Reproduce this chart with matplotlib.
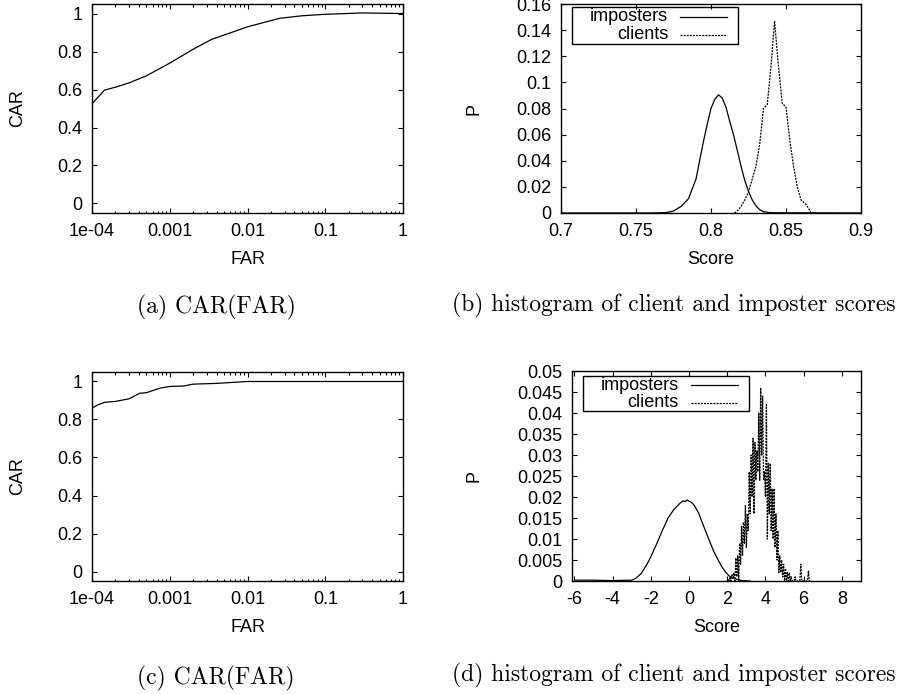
import matplotlib
matplotlib.use('Agg')
import matplotlib.pyplot as plt
from matplotlib.patches import Rectangle
from matplotlib.ticker import FixedLocator, FixedFormatter, LogLocator, NullFormatter


# (a) CAR(FAR) curve, first system
far_a = [1e-4, 1.45e-4, 2e-4, 3e-4, 5e-4, 1e-3, 2e-3, 3.5e-3, 6e-3, 1e-2,
         1.7e-2, 2.6e-2, 5e-2, 0.1, 0.3, 1.0]
car_a = [0.525, 0.597, 0.612, 0.635, 0.672, 0.739, 0.812, 0.865, 0.898, 0.930,
         0.955, 0.975, 0.988, 0.996, 1.003, 1.0]

# (b) score histograms, first system
score_imp_b = [0.700, 0.760, 0.770, 0.775, 0.780, 0.785, 0.790, 0.795, 0.7975,
               0.800, 0.8025, 0.805, 0.8075, 0.810, 0.8125, 0.815, 0.8175,
               0.820, 0.8225, 0.825, 0.8275, 0.830, 0.8325, 0.835, 0.840, 0.900]
p_imp_b = [0.0, 0.0, 0.0003, 0.0015, 0.005, 0.011, 0.026, 0.055, 0.068,
           0.080, 0.087, 0.0905, 0.088, 0.081, 0.070, 0.060, 0.048,
           0.036, 0.025, 0.0165, 0.010, 0.0055, 0.0025, 0.001, 0.0002, 0.0]
score_cli_b = [0.8157, 0.8180, 0.8200, 0.8225, 0.8250, 0.8275, 0.8300, 0.8325,
               0.8350, 0.8375, 0.8400, 0.8424, 0.8446, 0.8475, 0.8500, 0.8525,
               0.8550, 0.8575, 0.8600, 0.8635, 0.8668]
p_cli_b = [0.0, 0.002, 0.005, 0.010, 0.016, 0.026, 0.036, 0.053,
           0.080, 0.083, 0.112, 0.147, 0.117, 0.084, 0.081, 0.056,
           0.036, 0.020, 0.010, 0.0064, 0.0]

# (c) CAR(FAR) curve, second system
far_c = [1e-4, 1.2e-4, 1.45e-4, 1.7e-4, 2e-4, 3e-4, 4.1e-4, 5e-4, 7.5e-4,
         1e-3, 1.5e-3, 2e-3, 4e-3, 1e-2, 0.1, 1.0]
car_c = [0.860, 0.878, 0.890, 0.893, 0.895, 0.909, 0.938, 0.941, 0.965,
         0.974, 0.976, 0.986, 0.990, 1.0, 1.0, 1.0]

# (d) score histograms, second system
score_imp_d = [-6.0, -5.0, -4.0, -3.0, -2.8, -2.5, -2.2, -2.0, -1.7, -1.4,
               -1.1, -0.8, -0.5, -0.4, -0.3, -0.2, -0.1, 0.0, 0.1, 0.2,
               0.3, 0.5, 0.7, 0.9, 1.1, 1.3, 1.5, 1.7, 1.9, 2.1, 2.4, 2.8, 3.2]
p_imp_d = [0.0002, 0.0002, 0.0001, 0.0002, 0.0006, 0.0018, 0.0040, 0.0058, 0.0088, 0.0120,
           0.0150, 0.0170, 0.0184, 0.0188, 0.0191, 0.0189, 0.0193, 0.0190, 0.0188, 0.0184,
           0.0178, 0.0162, 0.0138, 0.0115, 0.0092, 0.0070, 0.0052, 0.0035, 0.0022, 0.0012,
           0.0005, 0.0001, 0.0]
score_cli_d = [2.00, 2.05, 2.10, 2.15, 2.20, 2.25, 2.30, 2.35, 2.40, 2.45,
               2.50, 2.55, 2.60, 2.65, 2.70, 2.75, 2.80, 2.85, 2.90, 2.95,
               3.00, 3.05, 3.10, 3.15, 3.20, 3.25, 3.30, 3.35, 3.40, 3.45,
               3.50, 3.55, 3.60, 3.65, 3.70, 3.75, 3.80, 3.85, 3.90, 3.95,
               4.00, 4.05, 4.10, 4.15, 4.20, 4.25, 4.30, 4.35, 4.40, 4.45,
               4.50, 4.55, 4.60, 4.65, 4.70, 4.75, 4.80, 4.85, 4.90, 4.95,
               5.00, 5.05, 5.10, 5.15, 5.20, 5.25, 5.30, 5.35, 5.40, 5.50,
               5.55, 5.60, 5.80, 5.85, 5.90, 6.20, 6.25, 6.30]
p_cli_d = [0.0, 0.0005, 0.0, 0.001, 0.0, 0.0015, 0.0005, 0.002, 0.0, 0.0055,
           0.001, 0.006, 0.0, 0.009, 0.004, 0.013, 0.006, 0.014, 0.009, 0.018,
           0.008, 0.016, 0.012, 0.026, 0.016, 0.030, 0.020, 0.034, 0.016, 0.033,
           0.024, 0.031, 0.026, 0.040, 0.024, 0.046, 0.030, 0.044, 0.024, 0.026,
           0.020, 0.042, 0.010, 0.028, 0.016, 0.028, 0.012, 0.022, 0.010, 0.022,
           0.008, 0.016, 0.005, 0.012, 0.002, 0.006, 0.002, 0.005, 0.001, 0.004,
           0.0, 0.003, 0.0, 0.002, 0.0, 0.002, 0.0, 0.001, 0.0, 0.0,
           0.001, 0.0, 0.0, 0.004, 0.0, 0.0, 0.0025, 0.0]

# tick values and labels
far_ticks = [1e-4, 1e-3, 1e-2, 1e-1, 1.0]
far_labels = ['1e-04', '0.001', '0.01', '0.1', '1']
car_ticks = [0, 0.2, 0.4, 0.6, 0.8, 1.0]
car_labels = ['0', '0.2', '0.4', '0.6', '0.8', '1']
score_b_ticks = [0.7, 0.75, 0.8, 0.85, 0.9]
score_b_labels = ['0.7', '0.75', '0.8', '0.85', '0.9']
p_b_ticks = [0, 0.02, 0.04, 0.06, 0.08, 0.1, 0.12, 0.14, 0.16]
p_b_labels = ['0', '0.02', '0.04', '0.06', '0.08', '0.1', '0.12', '0.14', '0.16']
score_d_ticks = [-6, -4, -2, 0, 2, 4, 6, 8]
score_d_labels = ['-6', '-4', '-2', '0', '2', '4', '6', '8']
p_d_ticks = [0, 0.005, 0.01, 0.015, 0.02, 0.025, 0.03, 0.035, 0.04, 0.045, 0.05]
p_d_labels = ['0', '0.005', '0.01', '0.015', '0.02', '0.025', '0.03', '0.035',
              '0.04', '0.045', '0.05']

captions = ['(a) CAR(FAR)', '(b) histogram of client and imposter scores',
            '(c) CAR(FAR)', '(d) histogram of client and imposter scores']
legend_labels = ['imposters', 'clients']

SANS = ['Liberation Sans', 'DejaVu Sans']
FS = 13
DOTTED = (0, (1.6, 0.9))

plt.rcParams['font.family'] = SANS
plt.rcParams['font.size'] = FS


def style_axes(ax, xticks, xlabels, yticks, ylabels):
	ax.xaxis.set_major_locator(FixedLocator(xticks))
	ax.xaxis.set_major_formatter(FixedFormatter(xlabels))
	ax.yaxis.set_major_locator(FixedLocator(yticks))
	ax.yaxis.set_major_formatter(FixedFormatter(ylabels))
	ax.tick_params(which='both', direction='in', top=True, right=True, width=0.8)
	ax.tick_params(which='major', length=3.3)
	ax.tick_params(which='minor', length=1.8)
	ax.tick_params(axis='x', pad=7, labelsize=FS)
	ax.tick_params(axis='y', pad=7, labelsize=FS)
	for sp in ax.spines.values():
		sp.set_linewidth(1.0)


def gp_legend(ax, box, text_x, line_x, ys):
	ax.add_patch(Rectangle((box[0], box[1]), box[2] - box[0], box[3] - box[1],
		transform=ax.transAxes, fill=False, edgecolor='black', linewidth=1.0,
		zorder=5, clip_on=False))
	styles = ['-', DOTTED]
	for label, style, y in zip(legend_labels, styles, ys):
		ax.text(text_x, y, label, transform=ax.transAxes, ha='right', va='center',
			fontsize=FS)
		ax.plot(line_x, [y, y], transform=ax.transAxes, color='black',
			linestyle=style, linewidth=0.9)


fig = plt.figure(figsize=(9.02, 6.94), dpi=100)

ax_a = fig.add_axes([0.102, 0.6931, 0.3448, 0.3011])
ax_b = fig.add_axes([0.6220, 0.6931, 0.3325, 0.3011])
ax_c = fig.add_axes([0.102, 0.1628, 0.3448, 0.3012])
ax_d = fig.add_axes([0.6341, 0.1628, 0.3204, 0.3026])

# CAR(FAR) panels
for ax, far, car in [(ax_a, far_a, car_a), (ax_c, far_c, car_c)]:
	ax.plot(far, car, color='black', linewidth=0.9)
	ax.set_xscale('log')
	ax.set_xlim(1e-4, 1)
	ax.set_ylim(-0.05, 1.05)
	style_axes(ax, far_ticks, far_labels, car_ticks, car_labels)
	ax.xaxis.set_minor_locator(LogLocator(base=10, subs=[2, 3, 4, 5, 6, 7, 8, 9]))
	ax.xaxis.set_minor_formatter(NullFormatter())
	ax.set_xlabel('FAR', fontsize=FS)
	ax.set_ylabel('CAR', fontsize=FS)
	ax.xaxis.set_label_coords(0.5, -0.18)
	ax.yaxis.set_label_coords(-0.212, 0.5)

# histogram (b)
ax_b.plot(score_imp_b, p_imp_b, color='black', linewidth=0.9)
ax_b.plot(score_cli_b, p_cli_b, color='black', linestyle=DOTTED, linewidth=0.9)
ax_b.set_xlim(0.7, 0.9)
ax_b.set_ylim(0, 0.16)
style_axes(ax_b, score_b_ticks, score_b_labels, p_b_ticks, p_b_labels)
ax_b.set_xlabel('Score', fontsize=FS)
ax_b.set_ylabel('P', fontsize=FS)
ax_b.xaxis.set_label_coords(0.5, -0.18)
ax_b.yaxis.set_label_coords(-0.263, 0.5)
gp_legend(ax_b, (0.037, 0.809, 0.59, 0.986), 0.357, [0.397, 0.553], [0.938, 0.852])

# histogram (d)
ax_d.plot(score_imp_d, p_imp_d, color='black', linewidth=0.9)
ax_d.plot(score_cli_d, p_cli_d, color='black', linestyle=DOTTED, linewidth=0.9)
ax_d.set_xlim(-6.13, 9)
ax_d.set_ylim(0, 0.05)
style_axes(ax_d, score_d_ticks, score_d_labels, p_d_ticks, p_d_labels)
ax_d.set_xlabel('Score', fontsize=FS)
ax_d.set_ylabel('P', fontsize=FS)
ax_d.xaxis.set_label_coords(0.5, -0.18)
ax_d.yaxis.set_label_coords(-0.311, 0.5)
gp_legend(ax_d, (0.038, 0.810, 0.612, 0.976), 0.370, [0.412, 0.574], [0.933, 0.848])

# sub-figure captions
cap_pos = [(216, 307), (674, 305), (216, 678), (674, 675)]
for text, (px, py) in zip(captions, cap_pos):
	fig.text(px / 902, 1 - py / 694, text, ha='center', va='center',
		fontfamily='cmr10', fontsize=17)

fig.savefig('out.png', dpi=100)
